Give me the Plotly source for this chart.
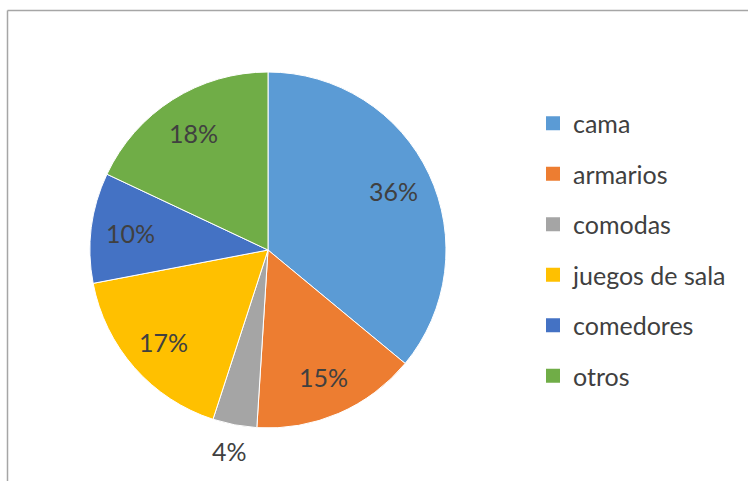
import math
import plotly.graph_objects as go

# Sales share by furniture category
categories = ["cama", "armarios", "comodas", "juegos de sala", "comedores", "otros"]
shares = [36, 15, 4, 17, 10, 18]
colors = ["#5B9BD5", "#ED7D31", "#A5A5A5", "#FFC000", "#4472C4", "#70AD47"]
label_positions = ["inside", "inside", "outside", "inside", "inside", "inside"]

W, H = 748, 481
FONT = "Lato, Carlito, Calibri, sans-serif"
TEXT_COLOR = "#404040"

# pie placement (pixels)
CX, CY, R = 268, 250, 178
dom_x = [(CX - R) / W, (CX + R) / W]
dom_y = [1 - (CY + R) / H, 1 - (CY - R) / H]

fig = go.Figure()

fig.add_trace(go.Pie(
    labels=categories,
    values=shares,
    sort=False,
    direction="clockwise",
    rotation=0,
    marker=dict(colors=colors, line=dict(color="white", width=1)),
    textinfo="none",
    domain=dict(x=dom_x, y=dom_y),
    showlegend=False,
    hoverinfo="label+percent",
))

# Percentage labels placed along each slice's mid-angle
total = sum(shares)
annotations = []
cum = 0
for v, pos in zip(shares, label_positions):
    theta = 2 * math.pi * (cum + v / 2) / total
    cum += v
    rr = R * (0.78 if pos == "inside" else 1.15)
    px = CX + rr * math.sin(theta)
    py = CY - rr * math.cos(theta)
    annotations.append(dict(
        x=px / W, y=1 - py / H, xref="paper", yref="paper",
        text=f"{round(100 * v / total)}%", showarrow=False,
        xanchor="center", yanchor="middle",
        font=dict(family=FONT, size=25, color=TEXT_COLOR),
    ))

# Legend entries, one group per category so they can be spaced apart
for name, col in zip(categories, colors):
    fig.add_trace(go.Scatter(
        x=[None], y=[None], mode="markers", name=name,
        legendgroup=name,
        marker=dict(symbol="square", size=14, color=col),
        hoverinfo="skip",
    ))

fig.update_layout(
    width=W, height=H,
    margin=dict(l=0, r=0, t=0, b=0),
    paper_bgcolor="white",
    plot_bgcolor="white",
    xaxis=dict(visible=False),
    yaxis=dict(visible=False),
    annotations=annotations,
    legend=dict(
        x=533 / W, xanchor="left",
        y=1 - 100.5 / H, yanchor="top",
        font=dict(family=FONT, size=25, color=TEXT_COLOR),
        tracegroupgap=15,
        bgcolor="rgba(0,0,0,0)",
        itemclick=False, itemdoubleclick=False,
    ),
    shapes=[
        dict(type="line", xref="paper", yref="paper",
             x0=7.5 / W, x1=1.0, y0=1 - 10.5 / H, y1=1 - 10.5 / H,
             line=dict(color="#A6A6A6", width=1.5)),
        dict(type="line", xref="paper", yref="paper",
             x0=7.5 / W, x1=7.5 / W, y0=0.0, y1=1 - 10.5 / H,
             line=dict(color="#A6A6A6", width=1.5)),
    ],
)

fig.write_html("out.html")
